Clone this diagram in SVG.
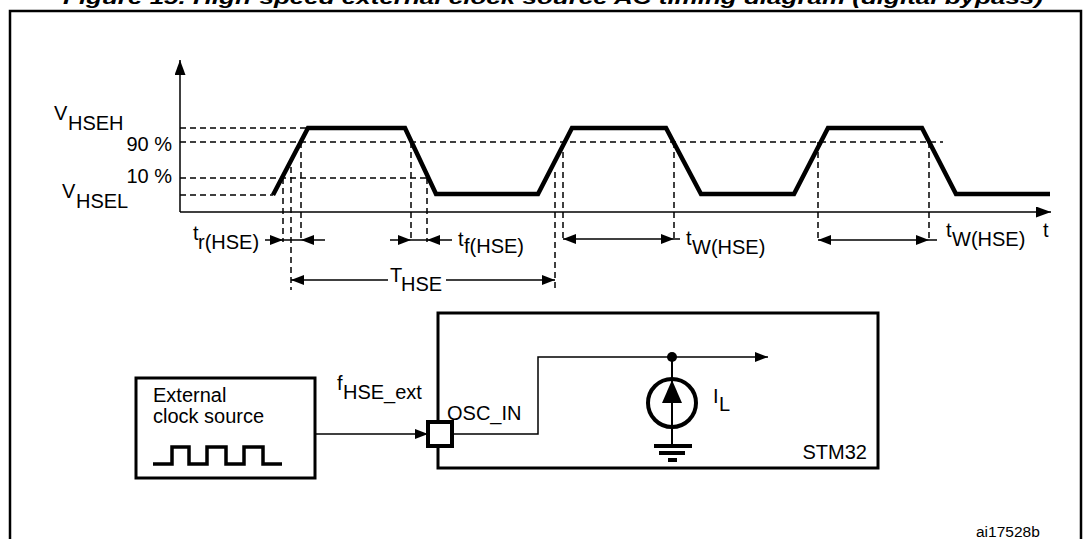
<svg xmlns="http://www.w3.org/2000/svg" width="1087" height="539" viewBox="0 0 1087 539">
<defs>
<marker id="ah" markerUnits="userSpaceOnUse" markerWidth="13" markerHeight="10" refX="13" refY="5" orient="auto" viewBox="0 0 13 10"><path d="M0,0 L13,5 L0,10 z" fill="#000"/></marker>
<marker id="ax" markerUnits="userSpaceOnUse" markerWidth="15" markerHeight="11" refX="15" refY="5.5" orient="auto" viewBox="0 0 15 11"><path d="M0,0 L15,5.5 L0,11 z" fill="#000"/></marker>
</defs>
<style>
text{font-family:"Liberation Sans",Arial,sans-serif;font-size:20px;fill:#000}
.dash{stroke:#000;stroke-width:1.5;stroke-dasharray:6,4;fill:none}
.thin{stroke:#000;stroke-width:1.5;fill:none}
.wave{stroke:#000;stroke-width:4.5;fill:none;stroke-linejoin:miter}
.box{stroke:#000;stroke-width:3;fill:none}
.dim{stroke:#000;stroke-width:1.5;fill:none;marker-end:url(#ah)}
</style>
<rect width="1087" height="539" fill="#fff"/>
<text x="63" y="4" style="font-weight:bold;font-style:italic;font-size:19px" textLength="980" lengthAdjust="spacingAndGlyphs">Figure 15. High-speed external clock source AC timing diagram (digital bypass)</text>
<path d="M10,545 V11 H1081 V545" stroke="#000" stroke-width="2.5" fill="none"/>

<g id="timing-axes">
<line x1="180" y1="212" x2="180" y2="60" class="thin" marker-end="url(#ax)"/>
<line x1="180" y1="212" x2="1051" y2="212" class="thin" marker-end="url(#ax)"/>
<text x="1043" y="237">t</text>
</g>

<g id="levels">
<line x1="180" y1="128" x2="308" y2="128" class="dash"/>
<line x1="180" y1="142" x2="943" y2="142" class="dash"/>
<line x1="180" y1="178" x2="428" y2="178" class="dash"/>
<line x1="180" y1="195" x2="273" y2="195" class="dash"/>
<text x="54" y="120">V</text><text x="68" y="130">HSEH</text>
<text x="172" y="151" text-anchor="end">90 %</text>
<text x="172" y="183" text-anchor="end">10 %</text>
<text x="62" y="198">V</text><text x="76" y="208">HSEL</text>
</g>

<g id="waveform">
<polyline class="wave" points="273,195 308,128 405,128 436,194 538,194 572,128 666,128 701,194 794,194 828,128 922,128 956,194 1050,194"/>
</g>

<g id="connectors">
<line x1="283" y1="178" x2="283" y2="242" class="dash"/>
<line x1="291" y1="167" x2="291" y2="290" class="dash"/>
<line x1="301" y1="142" x2="301" y2="242" class="dash"/>
<line x1="411" y1="142" x2="411" y2="242" class="dash"/>
<line x1="427" y1="178" x2="427" y2="242" class="dash"/>
<line x1="555" y1="172" x2="555" y2="290" class="dash"/>
<line x1="563" y1="142" x2="563" y2="240" class="dash"/>
<line x1="674" y1="142" x2="674" y2="240" class="dash"/>
<line x1="818" y1="142" x2="818" y2="241" class="dash"/>
<line x1="929" y1="142" x2="929" y2="241" class="dash"/>

<line x1="265" y1="240" x2="283" y2="240" class="dim"/>
<line x1="283" y1="240" x2="301" y2="240" class="thin"/>
<line x1="325" y1="240" x2="301" y2="240" class="dim"/>

<line x1="390" y1="240" x2="411" y2="240" class="dim"/>
<line x1="411" y1="240" x2="427" y2="240" class="thin"/>
<line x1="452" y1="240" x2="427" y2="240" class="dim"/>

<line x1="388" y1="280" x2="291" y2="280" class="dim"/>
<line x1="446" y1="280" x2="555" y2="280" class="dim"/>

<line x1="618" y1="239" x2="563" y2="239" class="dim"/>
<line x1="618" y1="239" x2="674" y2="239" class="dim"/>
<line x1="674" y1="239" x2="680" y2="239" class="thin"/>

<line x1="873" y1="240" x2="818" y2="240" class="dim"/>
<line x1="873" y1="240" x2="929" y2="240" class="dim"/>
<line x1="929" y1="240" x2="937" y2="240" class="thin"/>

<text x="193" y="240">t</text><text x="198" y="249">r(HSE)</text>
<text x="458" y="246">t</text><text x="464" y="253">f(HSE)</text>
<text x="390" y="282">T</text><text x="401" y="291">HSE</text>
<text x="686" y="245">t</text><text x="692" y="254">W(HSE)</text>
<text x="946" y="237">t</text><text x="952" y="246">W(HSE)</text>

<line x1="316" y1="434" x2="428" y2="434" class="dim"/>
<polyline class="thin" points="452,434 538,434 538,357 768,357" marker-end="url(#ah)"/>
<text x="337" y="390">f</text><text x="343" y="399">HSE_ext</text>
</g>

<g id="external-clock-source">
<rect x="136" y="378" width="179" height="100" class="box"/>
<text x="153" y="402">External</text>
<text x="153" y="423">clock source</text>
<polyline points="153,464 172,464 172,447 189,447 189,464 207,464 207,447 226,447 226,464 244,464 244,447 263,447 263,464 282,464" stroke="#000" stroke-width="3.5" fill="none"/>
</g>

<g id="stm32">
<rect x="438" y="313" width="440" height="155" class="box"/>
<rect x="428" y="422" width="24" height="24" fill="#fff" stroke="#000" stroke-width="4"/>
<text x="447" y="420">OSC_IN</text>
<text x="867" y="459" text-anchor="end">STM32</text>
</g>

<g id="current-source">
<circle cx="672" cy="357" r="5" fill="#000"/>
<line x1="672" y1="357" x2="672" y2="446" stroke="#000" stroke-width="2"/>
<circle cx="672" cy="403" r="24" stroke="#000" stroke-width="4" fill="none"/>
<path d="M672,380 L682,403 L662,403 z" fill="#000"/>
<line x1="654" y1="446" x2="692" y2="446" stroke="#000" stroke-width="4"/>
<line x1="659" y1="453" x2="685" y2="453" stroke="#000" stroke-width="4"/>
<line x1="668" y1="460" x2="677" y2="460" stroke="#000" stroke-width="4"/>
<text x="713" y="403">I</text><text x="719" y="411">L</text>
</g>

<text x="976" y="537" style="font-size:15.5px">ai17528b</text>
</svg>
